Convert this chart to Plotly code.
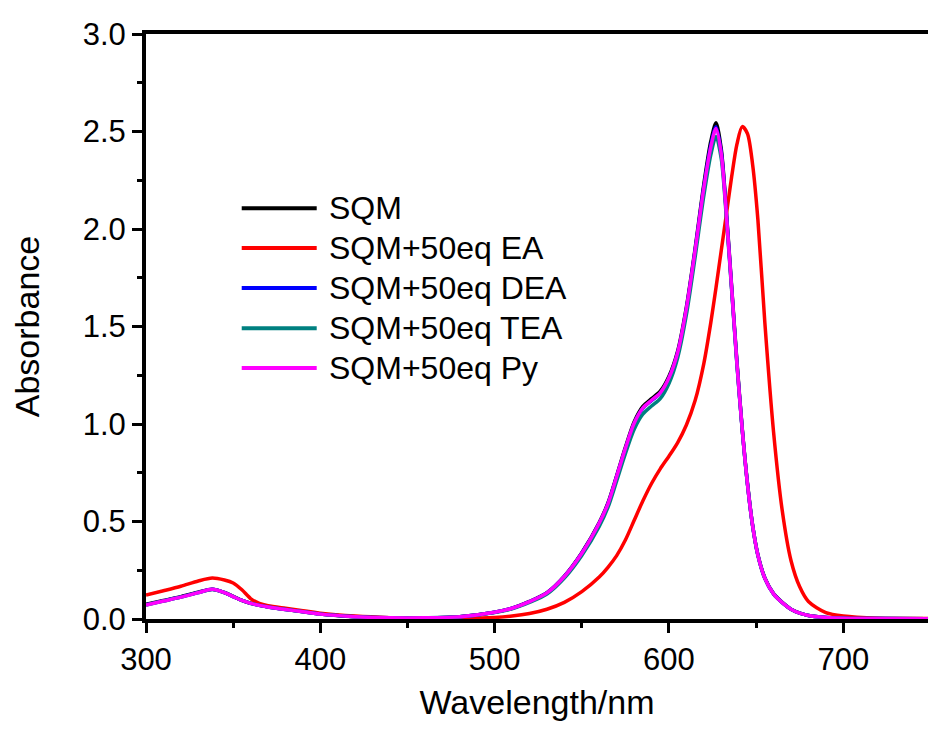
import plotly.graph_objects as go

# ---------------- data ----------------
wavelength = [300, 310, 320, 330, 338, 345, 350, 355, 360, 365, 370, 380, 390, 400,
              420, 440, 460, 480, 500, 510, 520, 530, 540, 550, 560, 565, 570, 575,
              580, 585, 590, 595, 600, 605, 610, 615, 620, 624, 627, 630, 633, 636,
              639, 642, 645, 648, 651, 655, 660, 665, 670, 675, 680, 690, 700, 720, 750]

sqm = [0.075, 0.095, 0.115, 0.138, 0.153, 0.136, 0.116, 0.096, 0.081, 0.071, 0.063, 0.050, 0.038, 0.026,
       0.012, 0.006, 0.006, 0.012, 0.035, 0.055, 0.090, 0.135, 0.220, 0.340, 0.495, 0.595, 0.735, 0.880,
       1.010, 1.090, 1.130, 1.168, 1.245, 1.375, 1.600, 1.900, 2.230, 2.450, 2.545, 2.410, 2.080, 1.700,
       1.320, 0.980, 0.700, 0.480, 0.330, 0.210, 0.130, 0.085, 0.050, 0.030, 0.018, 0.008, 0.004, 0.002, 0.001]

sqm_ea = [0.123, 0.145, 0.168, 0.195, 0.210, 0.200, 0.185, 0.150, 0.105, 0.080, 0.068, 0.055, 0.043, 0.030,
          0.015, 0.007, 0.004, 0.004, 0.008, 0.015, 0.028, 0.050, 0.085, 0.140, 0.215, 0.265, 0.325, 0.405,
          0.505, 0.605, 0.695, 0.770, 0.835, 0.905, 0.995, 1.120, 1.310, 1.520, 1.700, 1.890, 2.080, 2.270,
          2.435, 2.525, 2.490, 2.330, 2.050, 1.520, 0.960, 0.555, 0.300, 0.165, 0.090, 0.033, 0.015, 0.004, 0.002]

sqm_dea = [0.073, 0.093, 0.113, 0.136, 0.152, 0.135, 0.115, 0.095, 0.080, 0.070, 0.062, 0.049, 0.037, 0.025,
           0.012, 0.006, 0.006, 0.012, 0.035, 0.055, 0.089, 0.134, 0.218, 0.337, 0.491, 0.590, 0.730, 0.873,
           1.002, 1.080, 1.120, 1.158, 1.235, 1.365, 1.590, 1.890, 2.215, 2.430, 2.525, 2.395, 2.070, 1.690,
           1.310, 0.975, 0.695, 0.478, 0.328, 0.209, 0.129, 0.084, 0.050, 0.030, 0.018, 0.008, 0.004, 0.002, 0.001]

sqm_tea = [0.072, 0.092, 0.112, 0.135, 0.151, 0.135, 0.115, 0.095, 0.080, 0.070, 0.062, 0.049, 0.037, 0.025,
           0.012, 0.006, 0.006, 0.011, 0.033, 0.052, 0.085, 0.128, 0.210, 0.326, 0.475, 0.572, 0.708, 0.848,
           0.972, 1.050, 1.092, 1.130, 1.208, 1.340, 1.560, 1.855, 2.170, 2.380, 2.475, 2.360, 2.050, 1.680,
           1.305, 0.975, 0.695, 0.478, 0.328, 0.209, 0.129, 0.084, 0.050, 0.030, 0.018, 0.008, 0.004, 0.002, 0.001]

sqm_py = [0.072, 0.092, 0.112, 0.135, 0.152, 0.135, 0.115, 0.095, 0.080, 0.070, 0.062, 0.049, 0.037, 0.025,
          0.012, 0.006, 0.006, 0.012, 0.035, 0.055, 0.089, 0.134, 0.218, 0.337, 0.492, 0.591, 0.731, 0.875,
          1.004, 1.082, 1.122, 1.160, 1.237, 1.367, 1.592, 1.890, 2.210, 2.420, 2.515, 2.385, 2.065, 1.690,
          1.310, 0.975, 0.695, 0.478, 0.328, 0.209, 0.129, 0.084, 0.050, 0.030, 0.018, 0.008, 0.004, 0.002, 0.001]

series_names = ["SQM", "SQM+50eq EA", "SQM+50eq DEA", "SQM+50eq TEA", "SQM+50eq Py"]
series_values = [sqm, sqm_ea, sqm_dea, sqm_tea, sqm_py]
series_colors = ["#000000", "#ff0000", "#0000ff", "#008080", "#ff00ff"]

x_ticks = [300, 400, 500, 600, 700]
y_ticks = [0.0, 0.5, 1.0, 1.5, 2.0, 2.5, 3.0]

# ---------------- figure ----------------
FONT = "Liberation Sans, Arial, sans-serif"
fig = go.Figure()
for name, vals, col in zip(series_names, series_values, series_colors):
    fig.add_trace(go.Scatter(x=wavelength, y=vals, mode="lines", name=name,
                             line=dict(color=col, width=3.5, shape="spline", smoothing=0.8),
                             showlegend=False))

# legend drawn manually (long sample lines as in the original)
leg_y = [0.702, 0.634, 0.566, 0.497, 0.429]
for name, col, yy in zip(series_names, series_colors, leg_y):
    fig.add_shape(type="line", xref="paper", yref="paper", x0=0.1224, x1=0.2183,
                  y0=yy, y1=yy, line=dict(color=col, width=4))
    fig.add_annotation(xref="paper", yref="paper", x=0.2311, y=yy, text=name,
                       showarrow=False, xanchor="left", yanchor="middle",
                       font=dict(family=FONT, size=32, color="black"))

axis_common = dict(showline=True, linecolor="black", linewidth=4, ticks="outside",
                   ticklen=10, tickwidth=3, tickcolor="black", showgrid=False, zeroline=False,
                   tickfont=dict(family=FONT, size=31, color="black"))

fig.update_xaxes(range=[300, 748.6], tickvals=x_ticks, mirror=True,
                 minor=dict(dtick=50, ticks="outside", ticklen=5, tickwidth=3, tickcolor="black"),
                 title=dict(text="Wavelength/nm", font=dict(family=FONT, size=34, color="black"),
                            standoff=15),
                 **axis_common)
fig.update_yaxes(range=[0, 3.0], tickvals=y_ticks, tickformat=".1f", mirror=False,
                 minor=dict(dtick=0.25, ticks="outside", ticklen=5, tickwidth=3, tickcolor="black"),
                 title=dict(text="Absorbance", font=dict(family=FONT, size=34, color="black"),
                            standoff=34),
                 **axis_common)

fig.update_layout(width=928, height=729, margin=dict(l=146, r=0, t=34, b=110),
                  paper_bgcolor="white", plot_bgcolor="white")

fig.write_html("out.html")
